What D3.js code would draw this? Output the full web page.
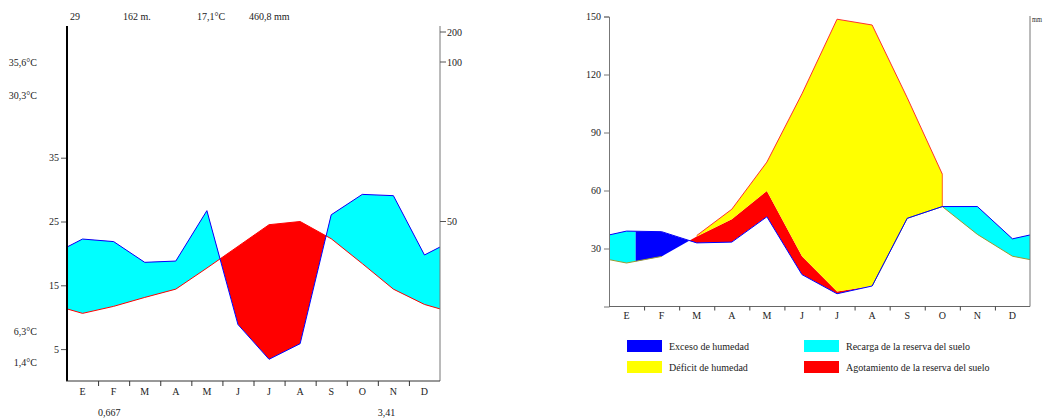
<!DOCTYPE html>
<html>
<head>
<meta charset="utf-8">
<script src="https://cdn.jsdelivr.net/npm/d3@7"></script>
<style>
	body { margin: 0; background: #fff; }
	svg text { font-family: "Liberation Serif", "Times New Roman", serif; font-size: 10px; fill: #222; }
</style>
</head>
<body>
<svg id="chart" width="1043" height="420"></svg>
<script>
// =================================================
// data
// =================================================
var meses = ["E", "F", "M", "A", "M", "J", "J", "A", "S", "O", "N", "D"];

// climograma
var temperatura = [10.6, 11.7, 13.1, 14.4, 17.7, 21.1, 24.5, 25.0, 22.3, 18.4, 14.4, 12.0];
var precipitacion = [44.5, 43.7, 37.2, 37.6, 53.4, 17.7, 6.8, 11.7, 52.1, 58.5, 58.1, 39.5];
var ticksTemp = [5, 15, 25, 35];
var ticksPrec = [50, 100, 200];
var cabecera = ["29", "162 m.", "17,1°C", "460,8 mm"];
var extremos = ["35,6°C", "30,3°C", "6,3°C", "1,4°C"];
var pie = ["0,667", "3,41"];

// balance hidrico
var pBalance = [39.0, 38.7, 32.9, 33.3, 46.4, 16.5, 6.6, 10.6, 45.6, 51.7, 51.7, 35.0];
var etp = [22.5, 25.9, 36.7, 50.3, 74.7, 110.0, 148.6, 145.6, 108.0, 68.5, 37.3, 26.0];
var etr = [22.5, 25.9, 36.2, 45.1, 59.8, 26.0, 7.8, 10.6, 45.6, 51.7, 37.3, 26.0];
var ticksBalance = [30, 60, 90, 120, 150];
var excesoDesde = 0.76, excesoHasta = 9.5;   // en meses
var leyenda = ["Exceso de humedad", "Recarga de la reserva del suelo", "Déficit de humedad", "Agotamiento de la reserva del suelo"];

// =================================================
// helpers
// =================================================
var svg = d3.select("#chart");
var defs = svg.append("defs");

// close the year: the edges take the mean of Dec and Jan
function cierra(a) {
	var b = (a[0] + a[11]) / 2;
	return [b].concat(a, [b]);
}
var posX = [0].concat(meses.map(function(m, i) { return i + 0.5; }), [12]);

// =================================================
// climograma (izquierda)
// =================================================
(function() {
	var x = d3.scaleLinear().domain([0, 12]).range([67, 440]),
		yT = d3.scaleLinear().domain([0, 50]).range([381, 62]);
	function yP(p) {
		return p <= 100 ? yT(p / 2) : yT(50) - (p - 100) * 0.3;
	}
	var T = cierra(temperatura), P = cierra(precipitacion);
	var pts = posX.map(function(v, i) { return { x: v, t: T[i], p: P[i] }; });

	var banda = d3.area().x(function(d) { return x(d.x); })
		.y0(function(d) { return yP(d.p); })
		.y1(function(d) { return yT(d.t); });
	var sobreP = d3.area().x(function(d) { return x(d.x); })
		.y0(function(d) { return yP(d.p); }).y1(0);
	var bajoP = d3.area().x(function(d) { return x(d.x); })
		.y0(function(d) { return yP(d.p); }).y1(420);

	defs.append("clipPath").attr("id", "c-sobre").append("path").attr("d", sobreP(pts));
	defs.append("clipPath").attr("id", "c-bajo").append("path").attr("d", bajoP(pts));

	svg.append("path").attr("d", banda(pts)).attr("fill", "#00ffff").attr("clip-path", "url(#c-bajo)");
	svg.append("path").attr("d", banda(pts)).attr("fill", "#ff0000").attr("clip-path", "url(#c-sobre)");

	svg.append("path").attr("d", d3.line().x(function(d) { return x(d.x); }).y(function(d) { return yT(d.t); })(pts))
		.attr("fill", "none").attr("stroke", "#ff0000").attr("stroke-width", 1);
	svg.append("path").attr("d", d3.line().x(function(d) { return x(d.x); }).y(function(d) { return yP(d.p); })(pts))
		.attr("fill", "none").attr("stroke", "#0000ff").attr("stroke-width", 1);

	// axes
	var gl = svg.append("g").attr("transform", "translate(67,0)")
		.call(d3.axisLeft(yT).tickValues(ticksTemp).tickSize(6).tickPadding(2));
	gl.select(".domain").remove();
	gl.selectAll("line").attr("stroke", "#555");
	gl.selectAll("text").attr("font-family", null).attr("font-size", null);
	svg.append("line").attr("x1", 67).attr("x2", 67).attr("y1", 26).attr("y2", 381)
		.attr("stroke", "#000").attr("stroke-width", 2);

	svg.append("line").attr("x1", 440).attr("x2", 440).attr("y1", 26).attr("y2", 381)
		.attr("stroke", "#777");
	ticksPrec.forEach(function(v) {
		svg.append("line").attr("x1", 440).attr("x2", 446).attr("y1", yP(v)).attr("y2", yP(v)).attr("stroke", "#555");
		svg.append("text").attr("x", 447).attr("y", yP(v) + 3.5).text(v);
	});

	svg.append("line").attr("x1", 66).attr("x2", 440).attr("y1", 381).attr("y2", 381).attr("stroke", "#333");
	var gb = svg.append("g").attr("transform", "translate(0,381)")
		.call(d3.axisBottom(x).tickValues(d3.range(1, 12)).tickSize(5).tickFormat(""));
	gb.select(".domain").remove();
	gb.selectAll("line").attr("stroke", "#333");
	meses.forEach(function(m, i) {
		svg.append("text").attr("x", x(i + 0.5)).attr("y", 395).attr("text-anchor", "middle").text(m);
	});

	// texts
	var cabX = [70, 123, 197, 249];
	cabecera.forEach(function(t, i) {
		svg.append("text").attr("x", cabX[i]).attr("y", 20).text(t);
	});
	var extY = [66, 99, 335, 366];
	extremos.forEach(function(t, i) {
		svg.append("text").attr("x", 37).attr("y", extY[i]).attr("text-anchor", "end").text(t);
	});
	svg.append("text").attr("x", x(1)).attr("y", 416).text(pie[0]);
	svg.append("text").attr("x", x(10)).attr("y", 416).text(pie[1]);
})();

// =================================================
// balance hidrico (derecha)
// =================================================
(function() {
	var x = d3.scaleLinear().domain([0, 12]).range([609, 1030]),
		y = d3.scaleLinear().domain([0, 150]).range([306.5, 16.5]);
	var P = cierra(pBalance), E = cierra(etp), R = cierra(etr);
	var pts = posX.map(function(v, i) { return { x: v, p: P[i], etp: E[i], etr: R[i] }; });
	var fx = function(d) { return x(d.x); };

	var banda = d3.area().x(fx).y0(function(d) { return y(d.p); }).y1(function(d) { return y(d.etr); });
	var sobreP = d3.area().x(fx).y0(function(d) { return y(d.p); }).y1(0);
	var bajoP = d3.area().x(fx).y0(function(d) { return y(d.p); }).y1(420);

	defs.append("clipPath").attr("id", "b-sobre").append("path").attr("d", sobreP(pts));
	defs.append("clipPath").attr("id", "b-bajo").append("path").attr("d", bajoP(pts));
	var cx0 = x(excesoDesde), cx1 = x(excesoHasta);
	defs.append("clipPath").attr("id", "b-exceso").append("rect")
		.attr("x", cx0).attr("y", 0).attr("width", cx1 - cx0).attr("height", 420);
	var rec = defs.append("clipPath").attr("id", "b-recarga");
	rec.append("rect").attr("x", 0).attr("y", 0).attr("width", cx0).attr("height", 420);
	rec.append("rect").attr("x", cx1).attr("y", 0).attr("width", 1043 - cx1).attr("height", 420);

	var bajo = svg.append("g").attr("clip-path", "url(#b-bajo)");
	bajo.append("path").attr("d", banda(pts)).attr("fill", "#00ffff").attr("clip-path", "url(#b-recarga)");
	bajo.append("path").attr("d", banda(pts)).attr("fill", "#0000ff").attr("clip-path", "url(#b-exceso)");
	svg.append("path").attr("d", banda(pts)).attr("fill", "#ff0000").attr("clip-path", "url(#b-sobre)");

	var deficit = function(d) { return d.etp > d.etr; };
	var amarillo = d3.area().defined(deficit).x(fx)
		.y0(function(d) { return y(d.etr); }).y1(function(d) { return y(d.etp); });
	svg.append("path").attr("d", amarillo(pts)).attr("fill", "#ffff00");

	// ETP outline over the deficit, closing down at its last month
	var ultimo = pts.filter(deficit).pop();
	svg.append("path").attr("d", d3.line().defined(deficit).x(fx).y(function(d) { return y(d.etp); })(pts))
		.attr("fill", "none").attr("stroke", "#ff3030").attr("stroke-width", 1);
	svg.append("line").attr("x1", fx(ultimo)).attr("x2", fx(ultimo))
		.attr("y1", y(ultimo.etp)).attr("y2", y(ultimo.etr))
		.attr("stroke", "#ff6020").attr("stroke-width", 1);
	svg.append("path").attr("d", d3.line().defined(function(d) { return d.etr === d.etp || d.etr === d.p; })
			.x(fx).y(function(d) { return y(d.etr); })(pts))
		.attr("fill", "none").attr("stroke", "#9a9a30").attr("stroke-width", 1);
	svg.append("path").attr("d", d3.line().x(fx).y(function(d) { return y(d.p); })(pts))
		.attr("fill", "none").attr("stroke", "#0000ff").attr("stroke-width", 1);

	// axes
	var gl = svg.append("g").attr("transform", "translate(609,0)")
		.call(d3.axisLeft(y).tickValues(ticksBalance).tickSize(5).tickPadding(3));
	gl.select(".domain").attr("stroke", "#777");
	gl.selectAll("line").attr("stroke", "#777");
	gl.selectAll("text").attr("font-family", null).attr("font-size", null);

	svg.append("line").attr("x1", 1030).attr("x2", 1030).attr("y1", 16).attr("y2", 306.5).attr("stroke", "#777");
	svg.append("text").attr("x", 1032).attr("y", 22).attr("textLength", 10)
		.attr("lengthAdjust", "spacingAndGlyphs").style("font-size", "8px").text("mm");

	svg.append("line").attr("x1", 609).attr("x2", 1030).attr("y1", 306.5).attr("y2", 306.5).attr("stroke", "#666");
	var gb = svg.append("g").attr("transform", "translate(0,306.5)")
		.call(d3.axisBottom(x).tickValues(d3.range(1, 12)).tickSize(4).tickFormat(""));
	gb.select(".domain").remove();
	gb.selectAll("line").attr("stroke", "#444");
	meses.forEach(function(m, i) {
		svg.append("text").attr("x", x(i + 0.5)).attr("y", 319).attr("text-anchor", "middle").text(m);
	});

	// legend
	var colores = ["#0000ff", "#00ffff", "#ffff00", "#ff0000"];
	leyenda.forEach(function(t, i) {
		var lx = i % 2 ? 804 : 627, ly = i < 2 ? 340 : 361;
		svg.append("rect").attr("x", lx).attr("y", ly).attr("width", 35).attr("height", 12).attr("fill", colores[i]);
		svg.append("text").attr("x", lx + 42).attr("y", ly + 10).text(t);
	});
})();
</script>
</body>
</html>
